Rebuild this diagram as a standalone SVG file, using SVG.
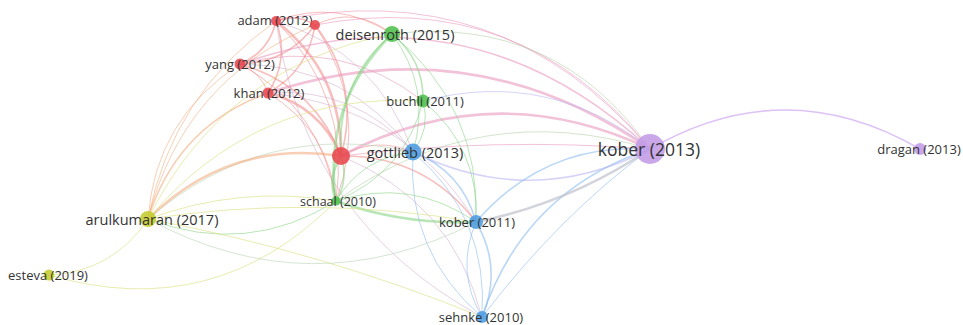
<svg xmlns="http://www.w3.org/2000/svg" width="963" height="325" viewBox="0 0 963 325">
<style>
path{fill:none;stroke-linecap:round}
.r{stroke:#f27c7c;stroke-opacity:.5}
.pk{stroke:#e88fb8;stroke-opacity:.55}
.g{stroke:#7fd17b;stroke-opacity:.55}
.b{stroke:#8dbdf0;stroke-opacity:.6}
.p{stroke:#cfa8f2;stroke-opacity:.7}
.lv{stroke:#b3b1f0;stroke-opacity:.55}
.y{stroke:#d9e07a;stroke-opacity:.6}
.o{stroke:#f2a877;stroke-opacity:.55}
.m{stroke:#c79ac0;stroke-opacity:.45}
.gp{stroke:#a9c99a;stroke-opacity:.5}
.yb{stroke:#b9d4b8;stroke-opacity:.6}
.gr{stroke:#c0c2cc;stroke-opacity:.7}
.w1{stroke-width:1}
.w2{stroke-width:1.6}
.w3{stroke-width:2.6}
circle{stroke:none;fill-opacity:.88}
.nr{fill:#e8474d}
.ng{fill:#4fc04c}
.nb{fill:#4b9ce0}
.ny{fill:#c5cc2e}
.np{fill:#c19be6}
text{font-family:"Open Sans","Noto Sans","Liberation Sans",sans-serif;fill:#333333;text-anchor:middle;dominant-baseline:central}
</style>
<rect width="963" height="325" fill="#ffffff"/>
<g id="connectors">
<path class="p w2" d="M650,149 Q785,71 920,149"/>
<path class="r w2" d="M276,21 Q296,13 315,25"/>
<path class="r w2" d="M276,21 Q269,52 240,64"/>
<path class="r w2" d="M276,21 Q290,59 268,93"/>
<path class="r w3" d="M276,21 Q342,72 341,156"/>
<path class="r w2" d="M315,25 Q287,63 240,64"/>
<path class="r w2" d="M315,25 Q308,71 268,93"/>
<path class="r w2" d="M315,25 Q361,84 341,156"/>
<path class="r w1" d="M240,64 Q261,72 268,93"/>
<path class="r w2" d="M240,64 Q314,85 341,156"/>
<path class="r w3" d="M268,93 Q320,106 341,156"/>
<path class="r w1" d="M276,21 Q337,-2 392,34"/>
<path class="r w1" d="M315,25 Q355,5 392,34"/>
<path class="pk w1" d="M240,64 Q341,37 423,101"/>
<path class="m w1" d="M268,93 Q355,86 413,152"/>
<path class="m w1" d="M276,21 Q377,52 413,152"/>
<path class="m w1" d="M240,64 Q349,65 413,152"/>
<path class="m w1" d="M268,93 Q404,106 476,222"/>
<path class="r w2" d="M341,156 Q425,155 476,222"/>
<path class="r w1" d="M341,156 Q376,136 413,152"/>
<path class="m w1" d="M341,156 Q452,201 482,317"/>
<path class="m w1" d="M482,317 Q305,221 276,21"/>
<path class="r w1" d="M276,21 Q351,96 336,201"/>
<path class="r w1" d="M268,93 Q329,130 336,201"/>
<path class="r w1" d="M240,64 Q322,109 336,201"/>
<path class="r w1" d="M315,25 Q370,108 336,201"/>
<path class="pk w1" d="M276,21 Q501,-27 650,149"/>
<path class="pk w1" d="M315,25 Q520,-14 650,149"/>
<path class="pk w2" d="M240,64 Q471,-17 650,149"/>
<path class="pk w3" d="M268,93 Q473,26 650,149"/>
<path class="pk w3" d="M341,156 Q494,75 650,149"/>
<path class="pk w1" d="M341,156 Q495,137 650,149"/>
<path class="g w2" d="M392,34 Q424,60 423,101"/>
<path class="g w3" d="M336,201 Q322,104 392,34"/>
<path class="g w2" d="M341,156 Q336,82 392,34"/>
<path class="g w1" d="M392,34 Q432,88 413,152"/>
<path class="gp w1" d="M392,34 Q556,14 650,149"/>
<path class="g w1" d="M392,34 Q481,107 476,222"/>
<path class="lv w1" d="M423,101 Q549,68 650,149"/>
<path class="g w1" d="M423,101 Q405,173 336,201"/>
<path class="g w1" d="M423,101 Q480,148 476,222"/>
<path class="g w1" d="M423,101 Q431,129 413,152"/>
<path class="g w1" d="M336,201 Q247,257 148,219"/>
<path class="y w1" d="M336,201 Q215,324 49,275"/>
<path class="g w3" d="M336,201 Q327,177 341,156"/>
<path class="g w2" d="M336,201 Q349,180 341,156"/>
<path class="g w1" d="M336,201 Q362,157 413,152"/>
<path class="gp w1" d="M336,201 Q480,97 650,149"/>
<path class="g w3" d="M476,222 Q403,225 336,201"/>
<path class="g w1" d="M336,201 Q411,177 476,222"/>
<path class="b w2" d="M413,152 Q462,171 476,222"/>
<path class="b w1" d="M413,152 Q489,217 482,317"/>
<path class="b w1" d="M482,317 Q406,252 413,152"/>
<path class="b w2" d="M476,222 Q503,268 482,317"/>
<path class="b w1" d="M482,317 Q455,271 476,222"/>
<path class="b w2" d="M482,317 Q524,191 650,149"/>
<path class="b w1" d="M482,317 Q560,215 650,149"/>
<path class="gr w3" d="M650,149 Q570,203 476,222"/>
<path class="b w2" d="M476,222 Q545,142 650,149"/>
<path class="lv w2" d="M650,149 Q532,210 413,152"/>
<path class="yb w1" d="M476,222 Q311,307 148,219"/>
<path class="yb w1" d="M148,219 Q264,119 413,152"/>
<path class="y w1" d="M148,219 Q113,272 49,275"/>
<path class="o w1" d="M148,219 Q172,94 276,21"/>
<path class="o w1" d="M148,219 Q155,119 240,64"/>
<path class="o w2" d="M148,219 Q177,126 268,93"/>
<path class="o w3" d="M148,219 Q229,139 341,156"/>
<path class="o w1" d="M148,219 Q183,80 315,25"/>
<path class="y w1" d="M148,219 Q256,91 423,101"/>
<path class="y w1" d="M148,219 Q224,66 392,34"/>
<path class="y w1" d="M148,219 Q320,251 482,317"/>
<path class="y w1" d="M148,219 Q312,194 476,222"/>
<path class="y w1" d="M148,219 Q240,185 336,201"/>
</g>
<g id="node-adam-2012"><circle class="nr" cx="276" cy="21" r="5"/><text x="275" y="20" font-size="13">adam (2012)</text></g>
<g id="node-red-2"><circle class="nr" cx="315" cy="25" r="5"/></g>
<g id="node-deisenroth-2015"><circle class="ng" cx="392" cy="34" r="8"/><text x="395" y="34" font-size="14.5">deisenroth (2015)</text></g>
<g id="node-yang-2012"><circle class="nr" cx="240" cy="64" r="5.5"/><text x="240" y="64" font-size="13">yang (2012)</text></g>
<g id="node-khan-2012"><circle class="nr" cx="268" cy="93" r="5.5"/><text x="269" y="93" font-size="13">khan (2012)</text></g>
<g id="node-buchli-2011"><circle class="ng" cx="423" cy="101" r="6.5"/><text x="425" y="101" font-size="13">buchli (2011)</text></g>
<g id="node-red-big"><circle class="nr" cx="341" cy="156" r="9"/></g>
<g id="node-gottlieb-2013"><circle class="nb" cx="413" cy="152" r="8.5"/><text x="415" y="152" font-size="14.5">gottlieb (2013)</text></g>
<g id="node-schaal-2010"><circle class="ng" cx="336" cy="201" r="4.5"/><text x="338" y="201" font-size="12.5">schaal (2010)</text></g>
<g id="node-kober-2011"><circle class="nb" cx="476" cy="222" r="7"/><text x="477" y="222" font-size="13">kober (2011)</text></g>
<g id="node-arulkumaran-2017"><circle class="ny" cx="148" cy="219" r="8"/><text x="152" y="219" font-size="14.5">arulkumaran (2017)</text></g>
<g id="node-esteva-2019"><circle class="ny" cx="49" cy="275" r="5.5"/><text x="48" y="275" font-size="13">esteva (2019)</text></g>
<g id="node-sehnke-2010"><circle class="nb" cx="482" cy="317" r="6"/><text x="481" y="317" font-size="13">sehnke (2010)</text></g>
<g id="node-kober-2013"><circle class="np" cx="650" cy="149" r="15"/><text x="649" y="149" font-size="17.5">kober (2013)</text></g>
<g id="node-dragan-2013"><circle class="np" cx="920" cy="149" r="6"/><text x="919" y="149" font-size="13">dragan (2013)</text></g>
</svg>
